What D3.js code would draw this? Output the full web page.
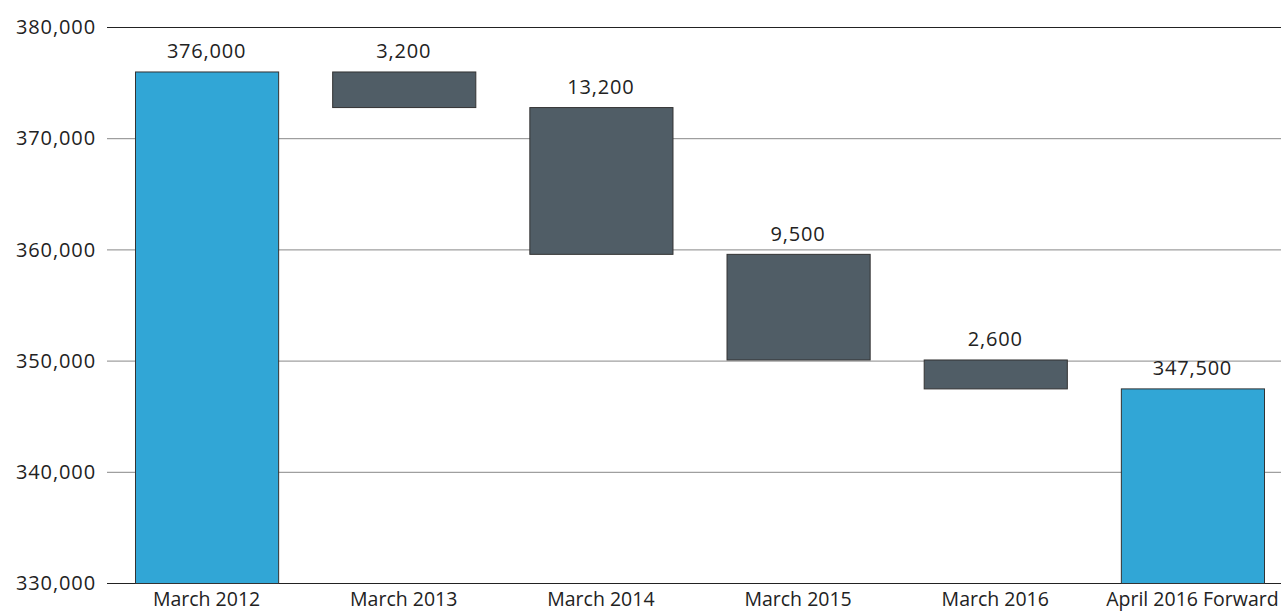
<!DOCTYPE html>
<html>
<head>
<meta charset="utf-8">
<script src="https://cdn.jsdelivr.net/npm/d3@7"></script>
<style>
    body { margin: 0; background: #fff; }
    text { font-family: "Open Sans", "Noto Sans", sans-serif; fill: #222; }
</style>
</head>
<body>
<svg id="chart" width="1281" height="613"></svg>
<script>
// waterfall data
const categories = ["March 2012", "March 2013", "March 2014", "March 2015", "March 2016", "April 2016 Forward"];
const changes = [376000, -3200, -13200, -9500, -2600, 347500];
const isTotal = [true, false, false, false, false, true];
const yTicks = [330000, 340000, 350000, 360000, 370000, 380000];

let running = 0;
let data = [];
for (let i = 0; i < categories.length; i++) {
    let start, end;
    if (isTotal[i]) {
        start = 330000;
        end = changes[i];
        running = changes[i];
    } else {
        start = running;
        end = running + changes[i];
        running = end;
    }
    data.push({cat: categories[i], lo: Math.min(start, end), hi: Math.max(start, end), label: Math.abs(changes[i]), total: isTotal[i]});
}

let svg = d3.select("#chart"),
    plotLeft = 107, plotRight = 1281,
    plotTop = 27, plotBottom = 583;

let x = d3.scaleBand()
    .domain(categories)
    .range([plotLeft, 1292])
    .paddingInner(0.274)
    .paddingOuter(0.142);

let y = d3.scaleLinear()
    .domain([330000, 380000])
    .range([plotBottom, plotTop]);

let fmt = d3.format(",");

// gridlines
svg.append("g").selectAll("line")
    .data(yTicks)
    .enter().append("line")
    .attr("x1", plotLeft)
    .attr("x2", plotRight)
    .attr("y1", d => y(d) + 0.5)
    .attr("y2", d => y(d) + 0.5)
    .attr("stroke", d => (d === 330000 || d === 380000) ? "#222" : "#888")
    .attr("stroke-width", 1);

// y tick labels
svg.append("g").selectAll("text")
    .data(yTicks)
    .enter().append("text")
    .attr("x", 96)
    .attr("y", d => y(d))
    .attr("dy", "0.36em")
    .attr("text-anchor", "end")
    .style("font-size", "20px")
    .style("letter-spacing", "0.9px")
    .text(d => fmt(d));

// bars
svg.append("g").selectAll("rect")
    .data(data)
    .enter().append("rect")
    .attr("x", d => x(d.cat) + 0.5)
    .attr("y", d => y(d.hi) + 0.5)
    .attr("width", x.bandwidth())
    .attr("height", d => y(d.lo) - y(d.hi))
    .attr("fill", d => d.total ? "#31a6d6" : "#505d66")
    .attr("stroke", "#333")
    .attr("stroke-width", 1);

// value labels
svg.append("g").selectAll("text")
    .data(data)
    .enter().append("text")
    .attr("x", d => x(d.cat) + x.bandwidth() / 2)
    .attr("y", d => y(d.hi) - 13)
    .attr("text-anchor", "middle")
    .style("font-size", "20px")
    .style("letter-spacing", "0.8px")
    .text(d => fmt(d.label));

// category labels
svg.append("g").selectAll("text")
    .data(categories)
    .enter().append("text")
    .attr("x", d => x(d) + x.bandwidth() / 2)
    .attr("y", 606)
    .attr("text-anchor", "middle")
    .style("font-size", "19.5px")
    .text(d => d);
</script>
</body>
</html>
